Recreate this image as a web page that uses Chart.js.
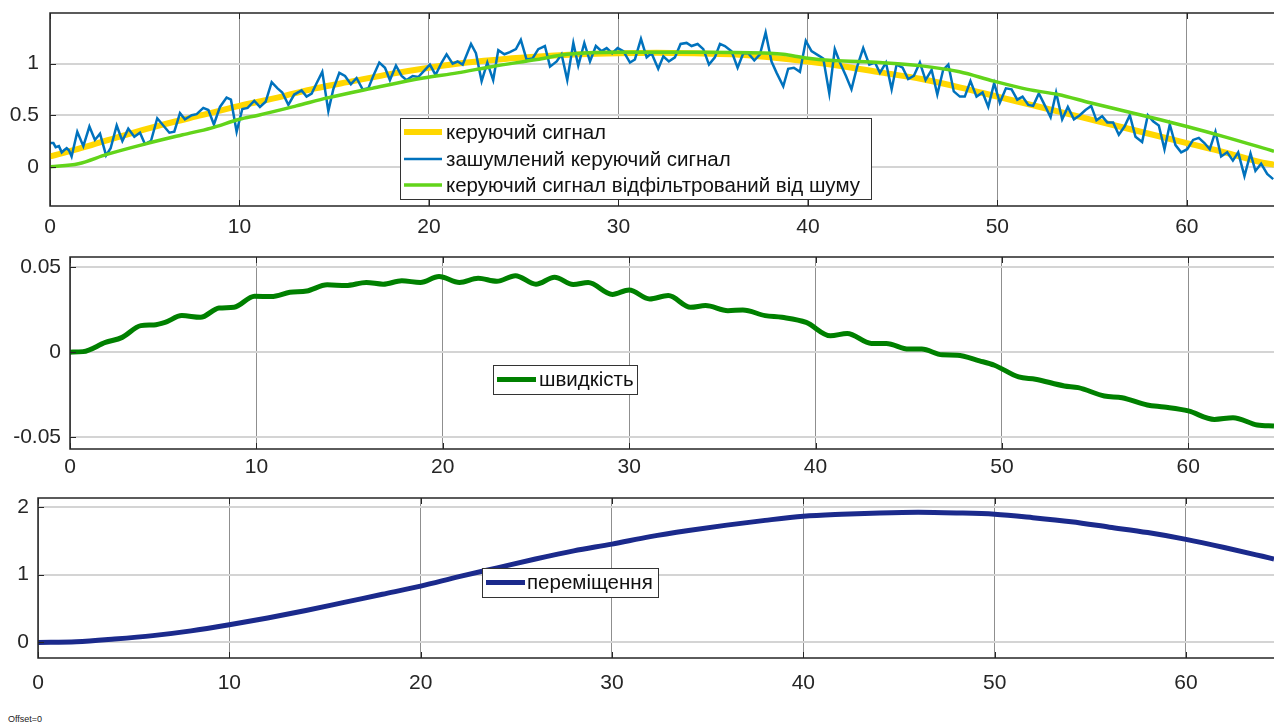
<!DOCTYPE html>
<html>
<head>
<meta charset="utf-8">
<script src="https://cdn.jsdelivr.net/npm/chart.js@4.4.1/dist/chart.umd.min.js"></script>
<style>
  body { margin: 0; background: #fff; width: 1274px; height: 727px; overflow: hidden; position: relative; }
  canvas { position: absolute; left: 0; }
  #offset { position: absolute; left: 8px; top: 714px; font: 9px "Liberation Sans", Arial, sans-serif; color: #222; }
</style>
</head>
<body>
<canvas id="c1" width="1274" height="240" style="top:0"></canvas>
<canvas id="c2" width="1274" height="245" style="top:240px"></canvas>
<canvas id="c3" width="1274" height="215" style="top:485px"></canvas>
<div id="offset">Offset=0</div>
<script>
// ---- data ----
const xTicks = [0, 10, 20, 30, 40, 50, 60];
const yTicksSignal = [0, 0.5, 1];
const yTicksSpeed = [-0.05, 0, 0.05];
const yTicksDisp = [0, 1, 2];

// керуючий сигнал
const refT = [0, 2, 4, 6, 8, 10, 12, 14, 16, 18, 20, 22, 24, 26, 28, 30, 32, 34, 36, 38, 40, 42, 44, 46, 48, 50, 52, 54, 56, 58, 60, 62, 64, 64.6];
const refV = [0.10, 0.20, 0.31, 0.41, 0.50, 0.59, 0.67, 0.76, 0.83, 0.90, 0.96, 1.01, 1.045, 1.07, 1.09, 1.10, 1.105, 1.10, 1.09, 1.06, 1.02, 0.97, 0.91, 0.85, 0.77, 0.68, 0.59, 0.50, 0.41, 0.32, 0.23, 0.14, 0.04, 0.02];

// зашумлений керуючий сигнал
const noisyT = [0, 0.18, 0.30, 0.47, 0.62, 0.74, 0.88, 1.00, 1.14, 1.44, 1.76, 2.08, 2.37, 2.64, 2.96, 3.20, 3.52, 3.82, 4.13, 4.45, 4.75, 5.01, 5.33, 5.66, 5.98, 6.30, 6.56, 6.86, 7.12, 7.48, 7.74, 8.09, 8.36, 8.65, 8.97, 9.32, 9.55, 9.85, 10.15, 10.43, 10.78, 11.08, 11.38, 11.70, 12.01, 12.26, 12.58, 12.89,
  13.28, 13.54, 13.81, 14.07, 14.37, 14.69, 14.95, 15.27, 15.57, 15.88, 16.18, 16.50, 16.80, 17.06, 17.38, 17.68, 17.94, 18.26, 18.56, 18.82, 19.14, 19.44, 19.74, 20.05, 20.35, 20.67, 20.93, 21.25, 21.51, 21.78, 22.22, 22.48, 22.78, 23.08, 23.39, 23.66, 23.98, 24.27, 24.59, 24.85, 25.15, 25.47, 25.77,
  26.12, 26.39, 26.74, 27.00, 27.30, 27.62, 27.88, 28.20, 28.50, 28.81, 29.11, 29.38, 29.67, 29.96, 30.26, 30.61, 30.87, 31.19, 31.49, 31.75, 32.10, 32.37, 32.66, 32.98, 33.28, 33.60, 33.86, 34.18, 34.48, 34.78, 35.09, 35.36, 35.62, 35.97, 36.29, 36.59, 36.85, 37.17, 37.47, 37.77, 38.08, 38.35, 38.70,
  38.96, 39.26, 39.58, 39.89, 40.19, 40.55, 40.81, 41.13, 41.42, 41.69, 42.01, 42.30, 42.60, 42.92, 43.24, 43.54, 43.80, 44.12, 44.42, 44.68, 45.00, 45.29, 45.59, 45.91, 46.21, 46.53, 46.83, 47.14, 47.41, 47.70, 48.02, 48.28, 48.58, 48.90, 49.22, 49.52, 49.83, 50.13, 50.45, 50.75, 51.05, 51.33, 51.63,
  51.89, 52.19, 52.49, 52.81, 53.10, 53.42, 53.72, 54.04, 54.35, 54.65, 54.95, 55.23, 55.53, 55.80, 56.11, 56.41, 56.71, 56.99, 57.29, 57.64, 57.94, 58.22, 58.52, 58.82, 59.10, 59.40, 59.70, 60.02, 60.33, 60.63, 60.93, 61.21, 61.51, 61.81, 62.13, 62.43, 62.71, 63.04, 63.36, 63.62, 63.92, 64.24, 64.56];
const noisyV = [0.23, 0.23, 0.19, 0.20, 0.14, 0.16, 0.18, 0.16, 0.10, 0.34, 0.20, 0.39, 0.26, 0.32, 0.11, 0.18, 0.40, 0.25, 0.37, 0.29, 0.33, 0.22, 0.25, 0.47, 0.40, 0.33, 0.34, 0.52, 0.46, 0.50, 0.51, 0.57, 0.55, 0.41, 0.58, 0.67, 0.65, 0.34, 0.56, 0.57, 0.64, 0.58, 0.63, 0.82, 0.76, 0.72, 0.60, 0.70,
  0.74, 0.68, 0.71, 0.81, 0.92, 0.54, 0.75, 0.91, 0.88, 0.80, 0.86, 0.75, 0.76, 0.88, 1.01, 0.96, 0.84, 0.98, 0.88, 0.84, 0.88, 0.87, 0.93, 0.99, 0.89, 1.01, 1.09, 1.00, 1.02, 0.99, 1.19, 1.10, 0.83, 1.01, 0.84, 1.13, 1.09, 1.11, 1.14, 1.23, 1.04, 1.05, 1.14,
  1.17, 0.97, 1.02, 1.09, 0.84, 1.20, 0.98, 1.20, 1.02, 1.17, 1.12, 1.15, 1.10, 1.15, 1.12, 1.01, 1.04, 1.24, 1.06, 1.10, 0.95, 1.07, 1.02, 1.06, 1.19, 1.20, 1.17, 1.19, 1.14, 0.99, 1.06, 1.19, 1.17, 1.12, 0.96, 1.10, 1.10, 1.03, 1.09, 1.30, 1.02, 0.91, 0.78,
  0.95, 0.96, 0.92, 1.22, 1.12, 1.08, 1.05, 0.71, 1.14, 1.01, 0.88, 0.75, 0.97, 1.15, 0.99, 1.01, 0.91, 1.01, 0.75, 0.99, 0.96, 0.85, 0.88, 1.01, 0.84, 0.94, 0.70, 0.94, 0.99, 0.73, 0.68, 0.68, 0.83, 0.68, 0.72, 0.58, 0.81, 0.62, 0.76, 0.75, 0.65, 0.68, 0.60,
  0.59, 0.71, 0.60, 0.48, 0.72, 0.46, 0.58, 0.46, 0.50, 0.55, 0.59, 0.45, 0.49, 0.43, 0.43, 0.31, 0.39, 0.50, 0.29, 0.24, 0.50, 0.44, 0.40, 0.17, 0.41, 0.21, 0.14, 0.17, 0.26, 0.28, 0.23, 0.17, 0.34, 0.10, 0.14, 0.06, 0.14, -0.09, 0.13, -0.04, 0.03, -0.07, -0.12];

// керуючий сигнал відфільтрований від шуму
const filtT = [0, 1.5, 3, 5, 7, 8.5, 10, 11, 13, 14.7, 17, 19.7, 21.5, 23.3, 25.7, 27.3, 30, 34.5, 38, 38.7, 39.9, 41.3, 43.8, 45.9, 48, 49.8, 51.6, 53.2, 54.9, 56.7, 58.5, 60, 62, 64.6];
const filtV = [0.0, 0.03, 0.12, 0.22, 0.31, 0.375, 0.46, 0.50, 0.59, 0.67, 0.76, 0.86, 0.91, 0.97, 1.04, 1.09, 1.11, 1.11, 1.10, 1.09, 1.055, 1.03, 1.01, 0.98, 0.92, 0.83, 0.75, 0.70, 0.62, 0.54, 0.46, 0.39, 0.29, 0.15];

// швидкість
const speedT = [0, 0.7, 1.9, 2.8, 3.8, 4.5, 5.1, 6.0, 7.0, 8.0, 8.8, 9.9, 10.8, 11.8, 12.7, 13.8, 14.8, 15.9, 16.8, 17.8, 18.8, 19.8, 20.9, 21.9, 22.9, 23.9, 25.0, 26.0, 27.0, 27.8, 29.1, 30.0, 31.1, 32.1, 33.3, 34.1, 35.3, 36.1, 37.3, 38.2, 39.5, 40.8, 41.7, 43.0, 43.8, 45.0, 45.7, 46.8, 47.6, 48.8, 49.6, 50.9, 51.8, 53.35, 54.1, 55.5, 56.45, 57.8, 58.7, 60.0, 61.4, 62.4, 63.7, 64.6];
const speedV = [0, 0.0003, 0.0057, 0.0087, 0.0156, 0.016, 0.0175, 0.0215, 0.0205, 0.026, 0.0264, 0.0329, 0.0327, 0.0352, 0.036, 0.0396, 0.0392, 0.041, 0.040, 0.042, 0.041, 0.0445, 0.041, 0.0435, 0.0417, 0.045, 0.040, 0.0441, 0.0398, 0.041, 0.034, 0.0366, 0.0313, 0.0333, 0.0264, 0.0274, 0.0244, 0.0248, 0.0215, 0.0205, 0.0175, 0.0096, 0.011, 0.0051, 0.0051, 0.0018, 0.0018, -0.0016, -0.0018, -0.0051, -0.0077, -0.0146, -0.0159, -0.0199, -0.0209, -0.0258, -0.0268, -0.0311, -0.0323, -0.0346, -0.0396, -0.0386, -0.0429, -0.0435];

// переміщення
const dispT = [0, 2, 4, 6, 8, 10, 12, 14, 16, 18, 20, 22, 24, 26, 28, 30, 32, 34, 36, 38, 40, 42, 44, 46, 48, 50, 52, 54, 56, 58, 60, 62, 64, 64.6];
const dispV = [0, 0.01, 0.05, 0.10, 0.17, 0.26, 0.36, 0.47, 0.59, 0.71, 0.83, 0.97, 1.10, 1.23, 1.35, 1.45, 1.56, 1.65, 1.73, 1.80, 1.86, 1.89, 1.91, 1.92, 1.91, 1.89, 1.84, 1.78, 1.70, 1.62, 1.52, 1.40, 1.27, 1.23];

const X_MAX = 64.6;
const FONT = '"Liberation Sans", Arial, sans-serif';

function pts(t, v) {
  return t.map((x, i) => ({ x: x, y: v[i] }));
}

// frame, inward tick marks and a MATLAB style legend box
const framePlugin = {
  id: 'frame',
  afterDatasetsDraw(chart, args, opts) {
    const ctx = chart.ctx;
    const a = chart.chartArea;
    const xs = chart.scales.x, ys = chart.scales.y;
    ctx.save();
    ctx.strokeStyle = '#262626';
    ctx.lineWidth = 1;
    ctx.beginPath();
    xs.ticks.forEach(t => {
      const px = Math.round(xs.getPixelForValue(t.value)) + 0.5;
      ctx.moveTo(px, a.bottom); ctx.lineTo(px, a.bottom - 6);
      ctx.moveTo(px, a.top); ctx.lineTo(px, a.top + 6);
    });
    ys.ticks.forEach(t => {
      const py = Math.round(ys.getPixelForValue(t.value)) + 0.5;
      ctx.moveTo(a.left, py); ctx.lineTo(a.left + 6, py);
    });
    ctx.stroke();
    ctx.lineWidth = 1.5;
    ctx.strokeRect(a.left, a.top, a.right - a.left + 2, a.bottom - a.top);

    const lg = opts.legend;
    if (lg) {
      ctx.fillStyle = '#fff';
      ctx.fillRect(lg.x, lg.y, lg.w, lg.h);
      ctx.strokeStyle = '#333';
      ctx.lineWidth = 1;
      ctx.strokeRect(lg.x + 0.5, lg.y + 0.5, lg.w, lg.h);
      ctx.font = lg.font;
      ctx.textBaseline = 'middle';
      chart.data.datasets.forEach((ds, i) => {
        const yy = lg.rows[i];
        ctx.strokeStyle = ds.borderColor;
        ctx.lineWidth = ds.borderWidth;
        ctx.beginPath();
        ctx.moveTo(lg.lineX1, yy); ctx.lineTo(lg.lineX2, yy);
        ctx.stroke();
        ctx.fillStyle = '#111';
        ctx.fillText(ds.label, lg.textX, yy + 1);
      });
    }
    ctx.restore();
  }
};

function makeChart(id, datasets, yMin, yMax, yTicks, yWidth, yPad, padTop, xHeight, xPad, legend) {
  return new Chart(document.getElementById(id), {
    type: 'line',
    data: { datasets: datasets },
    plugins: [framePlugin],
    options: {
      responsive: false,
      animation: false,
      layout: { padding: { top: padTop, left: 0, right: 0, bottom: 0 } },
      elements: { point: { radius: 0 } },
      plugins: {
        legend: { display: false },
        tooltip: { enabled: false },
        frame: { legend: legend }
      },
      scales: {
        x: {
          type: 'linear',
          min: 0,
          max: X_MAX,
          afterBuildTicks: s => { s.ticks = xTicks.map(v => ({ value: v })); },
          afterFit: s => { s.height = xHeight; s.paddingLeft = 0; s.paddingRight = 0; },
          grid: { color: '#8f8f8f', lineWidth: 1, drawTicks: false },
          border: { display: false },
          ticks: { font: { family: FONT, size: 21 }, color: '#262626', padding: xPad, maxRotation: 0 }
        },
        y: {
          min: yMin,
          max: yMax,
          afterBuildTicks: s => { s.ticks = yTicks.map(v => ({ value: v })); },
          afterFit: s => { s.width = yWidth; s.paddingTop = 0; s.paddingBottom = 0; },
          grid: { color: '#d4d4d4', lineWidth: 2, drawTicks: false },
          border: { display: false },
          ticks: {
            font: { family: FONT, size: 21 }, color: '#262626', padding: yPad,
            callback: v => String(v)
          }
        }
      }
    }
  });
}

makeChart('c1', [
  { label: 'керуючий сигнал', data: pts(refT, refV), borderColor: '#ffd700', borderWidth: 6, cubicInterpolationMode: 'monotone', order: 3 },
  { label: 'зашумлений керуючий сигнал', data: pts(noisyT, noisyV), borderColor: '#0072bd', borderWidth: 2.5, tension: 0, order: 2 },
  { label: 'керуючий сигнал відфільтрований від шуму', data: pts(filtT, filtV), borderColor: '#62d41a', borderWidth: 3.5, cubicInterpolationMode: 'monotone', order: 1 }
], -0.38, 1.49, yTicksSignal, 50, 11, 13, 34, 9,
  { x: 400, y: 118, w: 471, h: 81, rows: [132, 159, 185], lineX1: 404, lineX2: 442, textX: 446, font: '20.5px ' + FONT });

makeChart('c2', [
  { label: 'швидкість', data: pts(speedT, speedV), borderColor: '#008000', borderWidth: 5, cubicInterpolationMode: 'monotone' }
], -0.057, 0.056, yTicksSpeed, 70, 9, 17, 36, 6,
  { x: 493, y: 125, w: 144, h: 29, rows: [139.5], lineX1: 497, lineX2: 536, textX: 539, font: '20.5px ' + FONT });

makeChart('c3', [
  { label: 'переміщення', data: pts(dispT, dispV), borderColor: '#1b2a8c', borderWidth: 5, cubicInterpolationMode: 'monotone' }
], -0.23, 2.13, yTicksDisp, 38, 9, 13, 42, 13,
  { x: 482, y: 83, w: 176, h: 29, rows: [97.5], lineX1: 486, lineX2: 525, textX: 527, font: '20.5px ' + FONT });
</script>
</body>
</html>
